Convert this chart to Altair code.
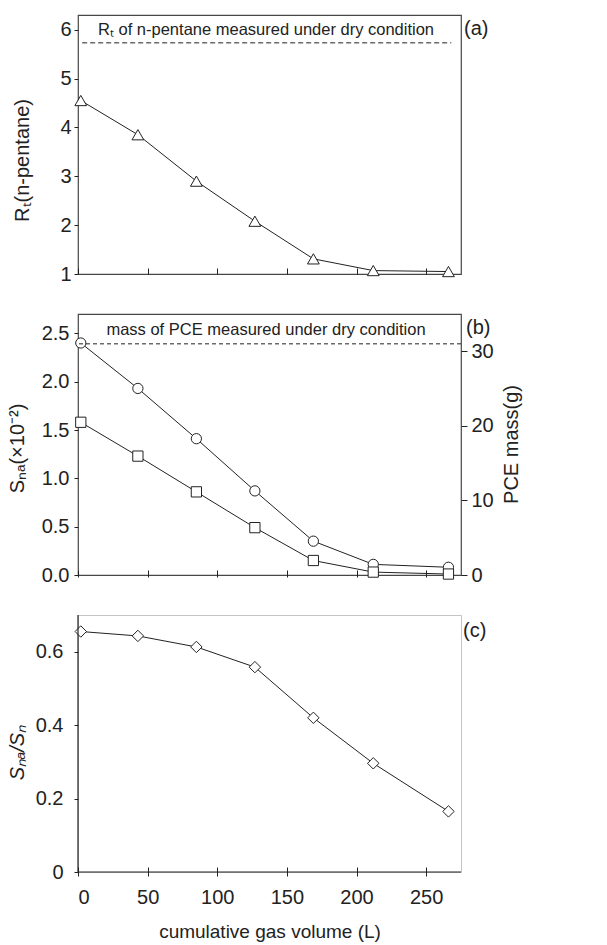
import altair as alt
import pandas as pd

# ---- data ----
volume = [2, 43, 85, 127, 169, 212, 266]                 # cumulative gas volume (L)
rt_pentane = [4.55, 3.85, 2.90, 2.08, 1.31, 1.07, 1.05]  # (a) triangles
s_n = [2.40, 1.93, 1.41, 0.87, 0.35, 0.11, 0.08]         # (b) circles
s_na = [1.58, 1.23, 0.86, 0.49, 0.15, 0.03, 0.01]        # (b) squares
ratio = [0.655, 0.643, 0.613, 0.558, 0.420, 0.296, 0.165]  # (c) diamonds
rt_dry = 5.73
pce_dry_mass = 31.0
x_ticks = [0, 50, 100, 150, 200, 250]
rt_ticks = [1, 2, 3, 4, 5, 6]
s_ticks = [0, 0.5, 1.0, 1.5, 2.0, 2.5]
mass_ticks = [0, 10, 20, 30]
ratio_ticks = [0, 0.2, 0.4, 0.6]

note_a = "Rₜ of n-pentane measured under dry condition"
note_b = "mass of PCE measured under dry condition"

FONT = "Liberation Sans"
INK = "#222222"
FRAME = "#474747"
W = 383
HA, HB, HC = 259, 261, 257


xscale = alt.Scale(domain=[0, 275], nice=False, zero=False)


def yaxis(values, title, titleX, titleY, labelPadding, fmt=None, labelExpr=None,
          italic=False):
    kw = dict(values=values, title=title, grid=False, domain=False, tickSize=4,
              tickColor=INK, labelPadding=labelPadding, titleAngle=270,
              titleX=titleX, titleY=titleY, titleBaseline="alphabetic",
              titleAlign="center")
    if fmt:
        kw["format"] = fmt
    if labelExpr:
        kw["labelExpr"] = labelExpr
    if italic:
        kw["titleFontStyle"] = "italic"
    return alt.Axis(**kw)


def one(**cols):
    return pd.DataFrame({k: [v] for k, v in cols.items()})


# ---------------- panel (a) ----------------
dfa = pd.DataFrame({"v": volume, "rt": rt_pentane})
xa = alt.X("v:Q", scale=xscale,
           axis=alt.Axis(values=x_ticks, labels=False, title=None, domain=False,
                         grid=False, tickSize=6, offset=-6, tickColor=INK))
ya = alt.Y("rt:Q", scale=alt.Scale(domain=[1, 6.3], nice=False, zero=False),
           axis=yaxis(rt_ticks, "Rₜ(n-pentane)", -50, 145, 3, fmt="d"))
base_a = alt.Chart(dfa).encode(x=xa, y=ya)
line_a = base_a.mark_line(color=INK, strokeWidth=1)
pts_a = base_a.mark_point(shape="triangle-up", size=140, filled=True, fill="white",
                          stroke=INK, strokeWidth=1, opacity=1)
dry_a = alt.Chart(one(rt=rt_dry, x0=3, x1=268)).mark_rule(
    color=INK, strokeDash=[5, 3], strokeWidth=1).encode(x="x0:Q", x2="x1:Q", y="rt:Q")
txt_a = alt.Chart(one(t=note_a)).mark_text(fontSize=16.5, font=FONT, color=INK).encode(
    x=alt.datum(135), y=alt.datum(6.0), text="t:N")
lab_a = alt.Chart(one(t="(a)")).mark_text(fontSize=20, font=FONT, color=INK,
                                          align="left", baseline="middle").encode(
    x=alt.value(W + 3), y=alt.value(13.5), text="t:N")
panel_a = alt.layer(line_a, pts_a, dry_a, txt_a, lab_a).properties(
    width=W, height=HA, view=alt.ViewBackground(stroke=FRAME, strokeWidth=1.2))

# ---------------- panel (b) ----------------
dfb = pd.DataFrame({"v": volume * 2, "s": s_n + s_na,
                    "series": ["Sn"] * len(volume) + ["Sna"] * len(volume)})
xb = alt.X("v:Q", scale=xscale,
           axis=alt.Axis(values=x_ticks, labels=False, title=None, domain=False,
                         grid=False, tickSize=7, offset=-5, tickColor=INK))
yb = alt.Y("s:Q", scale=alt.Scale(domain=[0, 2.7], nice=False),
           axis=yaxis(s_ticks, "Sₙₐ(×10⁻²)", -55, 134, 5, fmt=".1f"))
base_b = alt.Chart(dfb).encode(x=xb, y=yb)
line_b = base_b.mark_line(color=INK, strokeWidth=1).encode(detail="series:N")
pts_b = base_b.mark_point(filled=True, fill="white", stroke=INK, strokeWidth=1,
                          opacity=1, size=105).encode(
    shape=alt.Shape("series:N", scale=alt.Scale(domain=["Sn", "Sna"],
                                                range=["circle", "square"]),
                    legend=None))
left_b = alt.layer(line_b, pts_b)

ymass = alt.Y("m:Q", scale=alt.Scale(domain=[0, 35], nice=False),
              axis=alt.Axis(values=mass_ticks, title="PCE mass(g)", orient="right",
                            format="d", grid=False, domain=False, tickSize=6,
                            tickColor=INK, labelPadding=4, titleAngle=270,
                            titleX=56, titleY=130, titleBaseline="alphabetic",
                            titleAlign="center"))
dry_b = alt.Chart(one(m=pce_dry_mass)).mark_rule(
    color=INK, strokeDash=[4, 3], strokeWidth=1).encode(y=ymass)
txt_b = alt.Chart(one(t=note_b)).mark_text(fontSize=16.5, font=FONT, color=INK).encode(
    x=alt.datum(135), y=alt.datum(32.9), text="t:N")
lab_b = alt.Chart(one(t="(b)")).mark_text(fontSize=20, font=FONT, color=INK,
                                          align="left", baseline="middle").encode(
    x=alt.value(W + 5), y=alt.value(14), text="t:N")
right_b = alt.layer(dry_b, txt_b, lab_b)
panel_b = alt.layer(left_b, right_b).resolve_scale(y="independent").properties(
    width=W, height=HB, view=alt.ViewBackground(stroke=FRAME, strokeWidth=1.2))

# ---------------- panel (c) ----------------
dfc = pd.DataFrame({"v": volume, "r": ratio})
xc = alt.X("v:Q", scale=xscale,
           axis=alt.Axis(values=x_ticks, title="cumulative gas volume (L)", format="d",
                         domain=False, grid=False, tickSize=9, offset=-5,
                         tickColor=INK, labelPadding=11, titleX=W / 2, titleY=70,
                         titleFontSize=19, titleBaseline="alphabetic"))
yc = alt.Y("r:Q", scale=alt.Scale(domain=[0, 0.7], nice=False),
           axis=yaxis(ratio_ticks, "Sₙₐ/Sₙ", -55, 137, 11,
                      labelExpr="datum.value == 0 ? '0' : format(datum.value, '.1f')",
                      italic=True))
base_c = alt.Chart(dfc).encode(x=xc, y=yc)
line_c = base_c.mark_line(color=INK, strokeWidth=1)
pts_c = base_c.mark_point(shape="diamond", size=130, filled=True, fill="white",
                          stroke=INK, strokeWidth=1, opacity=1)
bottom_c = alt.Chart(one(r=0)).mark_rule(color=INK, strokeWidth=1.2).encode(y="r:Q")
left_c = alt.Chart(one(v=0)).mark_rule(color=INK, strokeWidth=1.2).encode(x="v:Q")
lab_c = alt.Chart(one(t="(c)")).mark_text(fontSize=20, font=FONT, color=INK,
                                          align="left", baseline="middle").encode(
    x=alt.value(W + 2), y=alt.value(16), text="t:N")
panel_c = alt.layer(line_c, pts_c, bottom_c, left_c, lab_c).properties(
    width=W, height=HC, view=alt.ViewBackground(stroke="#c4c4c4", strokeWidth=1))

chart = alt.vconcat(panel_a, panel_b, panel_c, spacing=40, bounds="flush").properties(
    padding={"left": 6, "top": 14, "right": 10, "bottom": 2},
    background="white",
).configure_axis(
    labelFont=FONT, titleFont=FONT, labelFontSize=20, titleFontSize=20,
    labelColor=INK, titleColor=INK, titleFontWeight="normal",
).configure_text(font=FONT)

chart.save("out.html", embed_options={"renderer": "svg", "actions": False})
